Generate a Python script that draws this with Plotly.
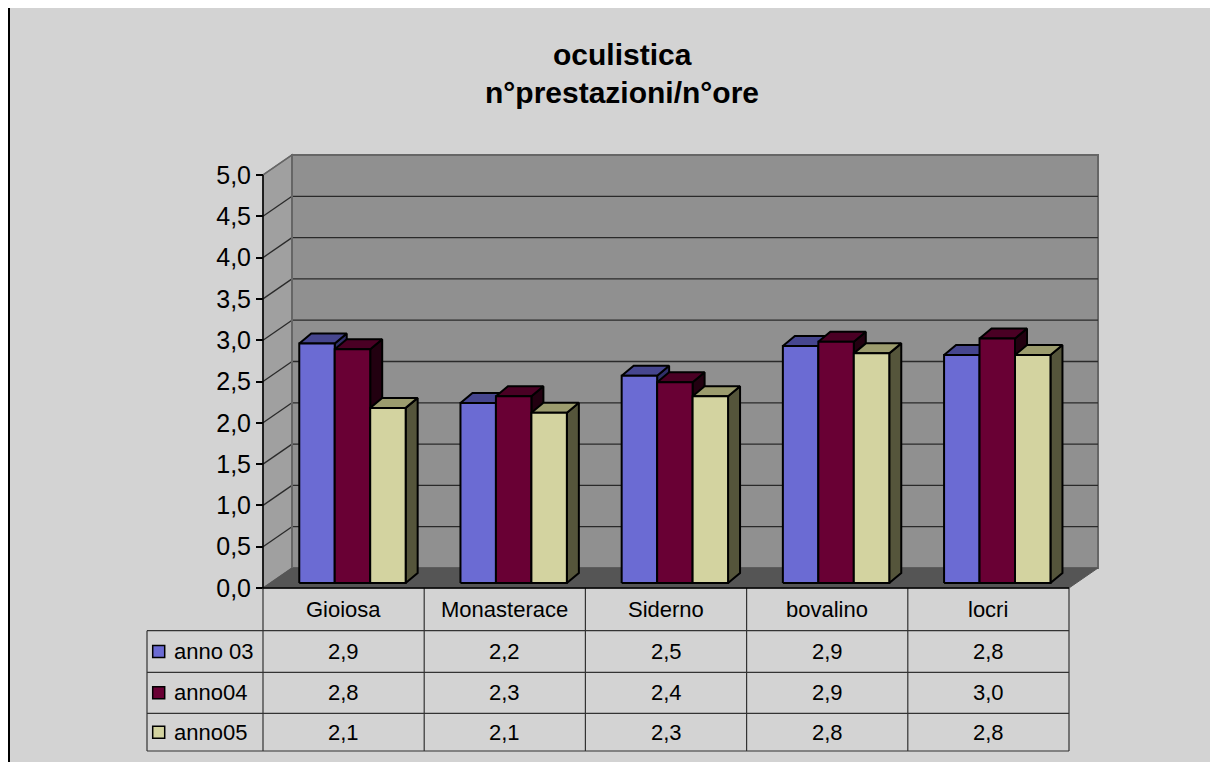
import plotly.graph_objects as go

# ---------------- data ----------------
categories = ["Gioiosa", "Monasterace", "Siderno", "bovalino", "locri"]
series_names = ["anno 03", "anno04", "anno05"]
anno03 = [2.90, 2.18, 2.51, 2.87, 2.76]
anno04 = [2.83, 2.26, 2.43, 2.92, 2.96]
anno05 = [2.12, 2.06, 2.26, 2.78, 2.76]
tick_values = [0, 0.5, 1.0, 1.5, 2.0, 2.5, 3.0, 3.5, 4.0, 4.5, 5.0]
title_lines = ["oculistica", "n°prestazioni/n°ore"]

series = [anno03, anno04, anno05]
front_colors = ["#6b6bd3", "#690034", "#d3d3a0"]
top_colors = ["#46468f", "#4a0024", "#9c9c6e"]
side_colors = ["#30306a", "#220010", "#55553b"]

FONT = "Liberation Sans, Arial, sans-serif"
BG = "#d3d3d3"

# ---------------- geometry (pixel calibration, page pixels) ----------------
OFF = 8                      # default page body margin of the html page
W, H = 1218 - 2 * OFF, 770 - 2 * OFF
PL, PR, PT, PB = 140, 1110, 140, 760      # plot-area pixel box (page pixels)
X0_PX, Y0_PX = 263, 588                   # page pixel of (category 0, value 0)
CAT_PX, VAL_PX = 161.2, 82.6              # pixels per category / per value unit

def px_x(px):
    return (px - X0_PX) / CAT_PX

def px_y(py):
    return (Y0_PX - py) / VAL_PX

def paper_x(px):
    return (px - PL) / (PR - PL)

def paper_y(py):
    return (PB - py) / (PB - PT)

ncat = len(categories)
ymax = tick_values[-1]

# wall depth and bar depth in data units
WDX, WDY = 29 / CAT_PX, 20 / VAL_PX
BDX, BDY = 12 / CAT_PX, 10 / VAL_PX
BAR_W = 0.22
BAR_OFF = 0.225
BAR_BASE = 5 / VAL_PX

fig = go.Figure()

def poly_path(pts):
    return "M " + " L ".join(f"{x},{y}" for x, y in pts) + " Z"

shapes = []
# white strips outside the chart-area border, and the border itself (top / left)
shapes.append(dict(type="rect", xref="paper", yref="paper", layer="below",
                   x0=paper_x(0), x1=paper_x(1230), y0=paper_y(7), y1=paper_y(-5),
                   fillcolor="white", line=dict(width=0)))
shapes.append(dict(type="rect", xref="paper", yref="paper", layer="below",
                   x0=paper_x(-5), x1=paper_x(9), y0=paper_y(790), y1=paper_y(-5),
                   fillcolor="white", line=dict(width=0)))
shapes.append(dict(type="line", xref="paper", yref="paper", layer="below",
                   x0=paper_x(9), x1=paper_x(1230), y0=paper_y(7), y1=paper_y(7),
                   line=dict(color="black", width=2)))
shapes.append(dict(type="line", xref="paper", yref="paper", layer="below",
                   x0=paper_x(9), x1=paper_x(9), y0=paper_y(7), y1=paper_y(790),
                   line=dict(color="black", width=2)))
# left wall
shapes.append(dict(type="path", xref="x", yref="y", layer="below",
                   path=poly_path([(0, 0), (WDX, WDY), (WDX, ymax + WDY), (0, ymax)]),
                   fillcolor="#a0a0a0", line=dict(color="#666666", width=1.5)))
# back wall
shapes.append(dict(type="path", xref="x", yref="y", layer="below",
                   path=poly_path([(WDX, WDY), (ncat + WDX, WDY), (ncat + WDX, ymax + WDY), (WDX, ymax + WDY)]),
                   fillcolor="#909090", line=dict(color="#666666", width=2)))
# floor
shapes.append(dict(type="path", xref="x", yref="y", layer="below",
                   path=poly_path([(0, 0), (ncat, 0), (ncat + WDX, WDY), (WDX, WDY)]),
                   fillcolor="#555555", line=dict(color="#555555", width=1)))
# gridlines on back wall and diagonals on left wall
for v in tick_values[1:]:
    if v < ymax:
        shapes.append(dict(type="line", xref="x", yref="y", layer="below",
                           x0=WDX, x1=ncat + WDX, y0=v + WDY, y1=v + WDY,
                           line=dict(color="#2a2a2a", width=1.3)))
    shapes.append(dict(type="line", xref="x", yref="y", layer="below",
                       x0=0, x1=WDX, y0=v, y1=v + WDY,
                       line=dict(color="#2a2a2a" if v < ymax else "#666666", width=1.3)))
# back wall left edge
shapes.append(dict(type="line", xref="x", yref="y", layer="below",
                   x0=WDX, x1=WDX, y0=WDY, y1=ymax + WDY, line=dict(color="#666666", width=2)))

# ---------------- bars as 3D prisms ----------------
for k, vals in enumerate(series):
    side_x, side_y, top_x, top_y, fr_x, fr_y = [], [], [], [], [], []
    for i, v in enumerate(vals):
        x0 = i + BAR_OFF + k * BAR_W
        x1 = x0 + BAR_W
        yb = BAR_BASE
        yt = BAR_BASE + v
        side = [(x1, yb), (x1 + BDX, yb + BDY), (x1 + BDX, yt + BDY), (x1, yt), (x1, yb)]
        top = [(x0, yt), (x1, yt), (x1 + BDX, yt + BDY), (x0 + BDX, yt + BDY), (x0, yt)]
        front = [(x0, yb), (x1, yb), (x1, yt), (x0, yt), (x0, yb)]
        for pts, xs, ys in ((side, side_x, side_y), (top, top_x, top_y), (front, fr_x, fr_y)):
            xs.extend([p[0] for p in pts] + [None])
            ys.extend([p[1] for p in pts] + [None])
    for xs, ys, col in ((side_x, side_y, side_colors[k]), (top_x, top_y, top_colors[k]),
                        (fr_x, fr_y, front_colors[k])):
        fig.add_trace(go.Scatter(x=xs, y=ys, mode="lines", fill="toself", fillcolor=col,
                                 line=dict(color="black", width=2), hoverinfo="skip",
                                 showlegend=False))

# ---------------- data table ----------------
row_edges = [0, px_y(630.7), px_y(672.3), px_y(713.3), px_y(751)]
tbl_left = px_x(147)
line_style = dict(color="#333333", width=1.2)
for ye in row_edges[1:]:
    shapes.append(dict(type="line", xref="x", yref="y", x0=tbl_left, x1=ncat, y0=ye, y1=ye,
                       line=line_style))
for c in range(ncat + 1):
    shapes.append(dict(type="line", xref="x", yref="y", x0=c, x1=c, y0=0, y1=row_edges[-1],
                       line=line_style))
shapes.append(dict(type="line", xref="x", yref="y", x0=tbl_left, x1=tbl_left,
                   y0=row_edges[1], y1=row_edges[-1], line=line_style))
# front floor edge and value axis line
shapes.append(dict(type="line", xref="x", yref="y", x0=0, x1=ncat, y0=0, y1=0,
                   line=dict(color="black", width=1.5)))
shapes.append(dict(type="line", xref="x", yref="y", x0=0, x1=0, y0=0, y1=ymax,
                   line=dict(color="black", width=1.5)))

TBL_SIZE = 22
annotations = []
for i, cat in enumerate(categories):
    annotations.append(dict(x=i + 0.5, y=(row_edges[0] + row_edges[1]) / 2, xref="x", yref="y",
                            text=cat, showarrow=False,
                            font=dict(family=FONT, size=TBL_SIZE, color="black")))
for k, vals in enumerate(series):
    yc = (row_edges[k + 1] + row_edges[k + 2]) / 2
    for i, v in enumerate(vals):
        annotations.append(dict(x=i + 0.5, y=yc, xref="x", yref="y",
                                text=f"{v:.1f}".replace(".", ","), showarrow=False,
                                font=dict(family=FONT, size=TBL_SIZE, color="black")))
    annotations.append(dict(x=px_x(172), y=yc, xref="x", yref="y", xanchor="left",
                            text=series_names[k], showarrow=False,
                            font=dict(family=FONT, size=TBL_SIZE, color="black")))
    fig.add_trace(go.Scatter(x=[px_x(158.7)], y=[yc], mode="markers",
                             marker=dict(symbol="square", size=12, color=front_colors[k],
                                         line=dict(color="black", width=1.5)),
                             hoverinfo="skip", showlegend=False))

# title
for line, py in zip(title_lines, [54, 93]):
    annotations.append(dict(x=paper_x(622), y=paper_y(py), xref="paper", yref="paper",
                            text=f"<b>{line}</b>", showarrow=False, yanchor="middle",
                            font=dict(family=FONT, size=30, color="black")))

fig.update_layout(
    width=W, height=H,
    margin=dict(l=PL - OFF, r=(W + OFF) - PR, t=PT - OFF, b=(H + OFF) - PB, pad=0),
    paper_bgcolor=BG, plot_bgcolor="rgba(0,0,0,0)",
    separators=",.",
    showlegend=False,
    shapes=shapes, annotations=annotations,
    xaxis=dict(range=[px_x(PL), px_x(PR)], visible=False, fixedrange=True),
    yaxis=dict(range=[px_y(PB), px_y(PT)], anchor="free", position=paper_x(X0_PX),
               tickvals=tick_values, tickformat=".1f", ticks="outside", ticklen=7,
               tickwidth=1.5, tickcolor="black", showgrid=False, zeroline=False,
               showline=False, tickfont=dict(family=FONT, size=25, color="black"),
               fixedrange=True),
)

fig.write_html("out.html")
